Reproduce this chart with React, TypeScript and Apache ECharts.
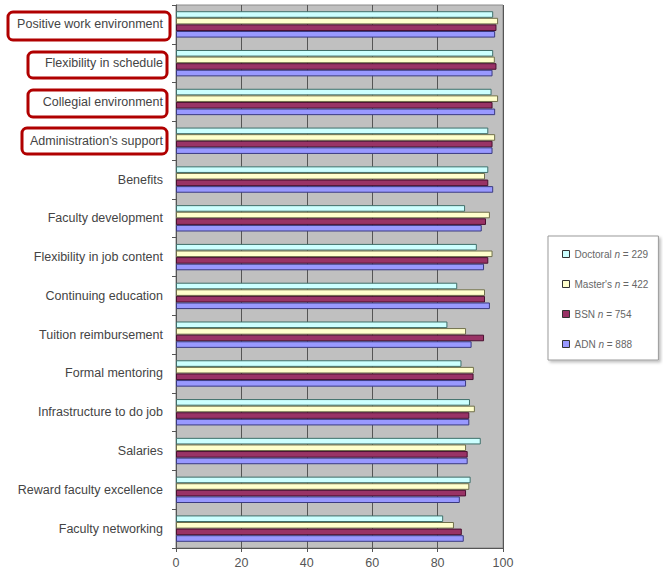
import React, { useEffect, useRef } from "react";
import * as echarts from "echarts";

// Job-satisfaction factors, listed top to bottom
const categories = [
  "Positive work environment",
  "Flexibility in schedule",
  "Collegial environment",
  "Administration's support",
  "Benefits",
  "Faculty development",
  "Flexibility in job content",
  "Continuing education",
  "Tuition reimbursement",
  "Formal mentoring",
  "Infrastructure to do job",
  "Salaries",
  "Reward faculty excellence",
  "Faculty networking",
];

// Percent of respondents, by highest degree held
const doctoral = [97, 97, 96.5, 95.5, 95.5, 88.4, 92, 86, 83, 87.3, 89.9, 93.2, 90.1, 81.7];
const masters = [98.5, 97.5, 98.5, 97.6, 94.5, 96, 96.8, 94.5, 88.7, 91.1, 91.4, 88.7, 89.7, 85];
const bsn = [98, 98, 96.8, 96.8, 95.5, 94.8, 95.5, 94.5, 94.2, 91, 89.7, 89.2, 88.7, 87.4];
const adn = [97.6, 96.8, 97.6, 96.8, 97, 93.5, 94.2, 96, 90.4, 88.7, 89.7, 89.2, 86.8, 88];

const seriesNames = ["Doctoral", "Master's", "BSN", "ADN"];
const sampleSizes = ["229", "422", "754", "888"];
const xTicks = [0, 20, 40, 60, 80, 100];

const palette = ["#ccffff", "#ffffcc", "#993366", "#9999ff"];
const outlines = ["#3f6f6a", "#6f6f4a", "#4a1030", "#3a3a80"];

// Factors highlighted with a red outline: [x, y, width, height]
const highlights = [
  [8, 12, 162, 28],
  [28, 52, 139, 26],
  [28, 90, 139, 27],
  [22, 128, 145, 26],
];

const font = "Arial, Liberation Sans, sans-serif";

export default function App() {
  const ref = useRef<HTMLDivElement>(null);

  useEffect(() => {
    document.body.style.margin = "0";
    if (!ref.current) return;
    const chart = echarts.init(ref.current, undefined, { renderer: "svg" });
    const values = [doctoral, masters, bsn, adn];

    chart.setOption({
      animation: false,
      backgroundColor: "#ffffff",
      grid: {
        left: 176,
        right: 160,
        top: 5,
        bottom: 25,
        show: true,
        backgroundColor: "#c0c0c0",
        borderColor: "#8a8a8a",
        borderWidth: 1,
      },
      xAxis: {
        type: "value",
        min: 0,
        max: 100,
        interval: 20,
        axisLine: { show: true, lineStyle: { color: "#555" } },
        axisTick: { show: true, length: 4, lineStyle: { color: "#555" } },
        axisLabel: {
          color: "#555",
          fontFamily: font,
          fontSize: 12.5,
          margin: 8,
          formatter: (v: number) => (xTicks.includes(v) ? String(v) : ""),
        },
        splitLine: { show: true, lineStyle: { color: "#555", width: 1 } },
      },
      yAxis: {
        type: "category",
        data: categories,
        inverse: true,
        axisLine: { show: true, lineStyle: { color: "#555" } },
        axisTick: { show: true, length: 4, lineStyle: { color: "#555" } },
        axisLabel: {
          color: "#444",
          fontFamily: font,
          fontSize: 12.5,
          margin: 13,
        },
      },
      legend: {
        orient: "vertical",
        left: 548,
        top: 236,
        width: 114,
        padding: [13, 10, 11, 14],
        itemGap: 20,
        itemWidth: 7,
        itemHeight: 7,
        backgroundColor: "#ffffff",
        borderColor: "#9a9a9a",
        borderWidth: 1,
        shadowColor: "rgba(0,0,0,0.25)",
        shadowBlur: 3,
        shadowOffsetX: 2,
        shadowOffsetY: 2,
        data: seriesNames.map((name, i) => ({
          name,
          icon: "rect",
          itemStyle: { color: palette[i], borderColor: "#333", borderWidth: 1 },
        })),
        formatter: (name: string) => {
          const i = seriesNames.indexOf(name);
          return `{a|${name} }{i|n}{a| = ${sampleSizes[i]}}`;
        },
        textStyle: {
          color: "#666",
          fontFamily: font,
          fontSize: 10,
          lineHeight: 10,
          rich: {
            a: { fontSize: 10, color: "#666", fontFamily: font },
            i: { fontSize: 10, color: "#666", fontStyle: "italic", fontFamily: font },
          },
        },
      },
      series: seriesNames.map((name, i) => ({
        name,
        type: "bar",
        data: values[i],
        barGap: "0%",
        barCategoryGap: "32%",
        itemStyle: {
          color: palette[i],
          borderColor: outlines[i],
          borderWidth: 1,
        },
      })),
      graphic: highlights.map(([x, y, w, h]) => ({
        type: "rect",
        z: 100,
        shape: { x, y, width: w, height: h, r: 5 },
        style: { fill: "none", stroke: "#b00000", lineWidth: 3 },
      })),
    });

    return () => chart.dispose();
  }, []);

  return <div ref={ref} style={{ width: 663, height: 573 }} />;
}
